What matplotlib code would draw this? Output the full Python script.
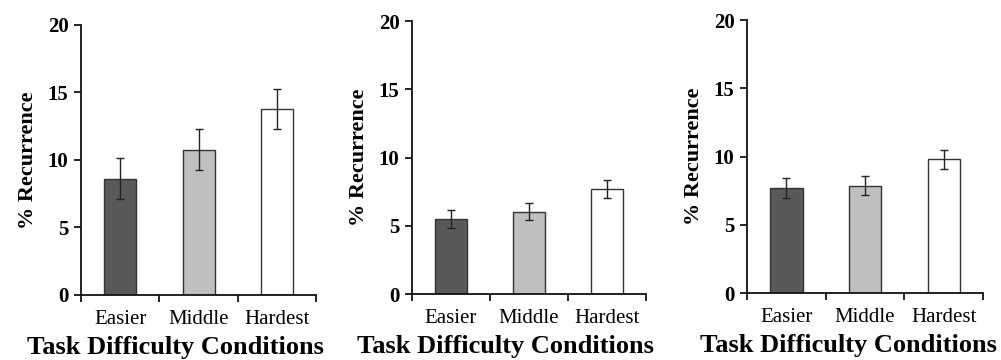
import numpy as np
import matplotlib.pyplot as plt
from matplotlib.ticker import FixedLocator, NullFormatter

plt.rcParams['font.family'] = ['Liberation Serif', 'DejaVu Serif']

categories = ["Easier", "Middle", "Hardest"]
colors = ["#595959", "#bfbfbf", "#ffffff"]

# % recurrence per panel and their error bars
values_1 = [8.6, 10.75, 13.75]
errors_1 = [1.5, 1.5, 1.5]
values_2 = [5.5, 6.05, 7.7]
errors_2 = [0.65, 0.65, 0.65]
values_3 = [7.7, 7.85, 9.8]
errors_3 = [0.7, 0.7, 0.7]

panels = [(values_1, errors_1), (values_2, errors_2), (values_3, errors_3)]
positions = [[0.081, 0.181, 0.235, 0.750],
             [0.4116, 0.183, 0.2338, 0.758],
             [0.7463, 0.186, 0.2358, 0.758]]
xlabel_x = [0.40, 0.40, 0.43]

fig = plt.figure(figsize=(10.01, 3.6), dpi=100)

for (vals, errs), pos, lx in zip(panels, positions, xlabel_x):
    ax = fig.add_axes(pos)
    x = np.arange(len(categories)) + 0.5
    ax.bar(x, vals, width=0.41, color=colors, edgecolor="#333333", linewidth=1.0, zorder=2)
    ax.errorbar(x, vals, yerr=errs, fmt="none", ecolor="#222222", elinewidth=1.0,
                capsize=3, capthick=1.0, zorder=3)
    ax.set_xlim(0, 3)
    ax.set_ylim(0, 20)
    ax.set_yticks([0, 5, 10, 15, 20])
    ax.set_yticklabels(["0", "5", "10", "15", "20"], fontsize=15, fontweight="bold")
    # Excel style: ticks between categories, labels at centres
    ax.xaxis.set_major_locator(FixedLocator([0, 1, 2, 3]))
    ax.xaxis.set_major_formatter(NullFormatter())
    ax.xaxis.set_minor_locator(FixedLocator(x))
    ax.set_xticklabels(categories, minor=True, fontsize=15)
    ax.tick_params(axis="x", which="major", length=5, width=1.2, direction="out")
    ax.tick_params(axis="x", which="minor", length=0, pad=11)
    ax.tick_params(axis="y", length=5, width=1.2, direction="out", pad=4)
    for side in ["top", "right"]:
        ax.spines[side].set_visible(False)
    for side in ["left", "bottom"]:
        ax.spines[side].set_linewidth(1.3)
        ax.spines[side].set_color("#111111")
    ax.set_ylabel("% Recurrence", fontsize=16, fontweight="bold", labelpad=7)
    ax.set_xlabel("Task Difficulty Conditions", fontsize=19, fontweight="bold", labelpad=5, x=lx)

fig.savefig("out.png", dpi=100)
